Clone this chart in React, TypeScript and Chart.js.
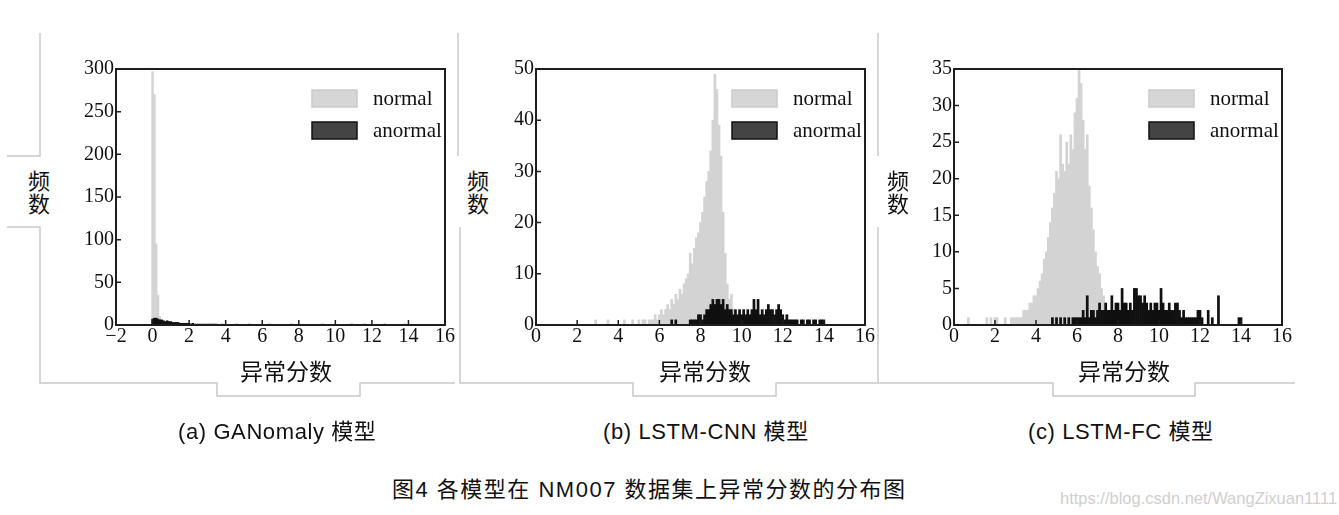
import React, { useEffect, useRef } from "react";
import { Chart, registerables } from "chart.js";
Chart.register(...registerables);

// ---------- data ----------
const BIN = 0.1;

// (a) GANomaly
const aNormalStart = 0.0;
const aNormalCounts = [297, 270, 95, 35, 10, 4, 2];
const aAnormalStart = 0.0;
const aAnormalCounts = [7, 8, 8, 7, 6, 6, 5, 4, 5, 4, 4, 3, 3, 3, 3, 2, 2, 2, 2, 2, 2, 1, 2, 1, 1, 1, 1, 1, 1, 1, 1, 1, 1, 1, 1, 1];
const aAnormalExtraX = [3.8, 4.6, 5.3, 6.4, 7.6, 9.3, 10.9, 11.6, 12.7, 13.8];
const aAnormalExtraY = [1, 1, 1, 1, 1, 1, 1, 1, 1, 1];

// (b) LSTM-CNN
const bNormalStart = 5.0;
const bNormalCounts = [
  1, 0, 1, 1, 0, 1, 1, 1, 2, 1,
  2, 3, 2, 3, 4, 3, 5, 4, 6, 5,
  7, 6, 8, 9, 10, 14, 12, 15, 17, 18,
  20, 22, 25, 28, 30, 34, 40, 49, 46, 39,
  33, 22, 14, 8, 5, 6, 3, 1, 1,
];
const bNormalExtraX = [2.9, 3.5, 4.3, 4.7];
const bNormalExtraY = [1, 1, 1, 1];
const bAnormalStart = 6.6;
const bAnormalCounts = [
  1, 0, 1, 0,
  0, 0, 0, 0, 0, 1, 1, 1, 1, 2,
  2, 1, 2, 3, 3, 4, 5, 4, 5, 5,
  4, 5, 3, 4, 3, 3, 2, 3, 2, 3,
  2, 3, 2, 3, 2, 3, 5, 3, 5, 2,
  3, 2, 3, 4, 3, 3, 2, 3, 4, 3,
  2, 1, 2, 1, 1, 1, 1, 1, 0, 1,
  1, 0, 1, 1, 0, 1, 1, 0, 1, 1, 1,
];

// (c) LSTM-FC
const cNormalStart = 2.8;
const cNormalCounts = [
  1, 1,
  1, 1, 1, 1, 2, 2, 2, 3, 3, 4,
  4, 5, 6, 7, 9, 10, 12, 14, 16, 18,
  21, 20, 26, 22, 21, 25, 22, 26, 24, 29,
  31, 35, 33, 28, 24, 26, 19, 16, 13, 10,
  8, 7, 5, 4, 3, 2, 2, 1, 1,
];
const cNormalExtraX = [0.7, 1.6, 1.8, 2.0, 2.1, 2.5];
const cNormalExtraY = [1, 1, 1, 1, 1, 1];
const cAnormalStart = 4.8;
const cAnormalCounts = [
  1, 0, 1, 0, 1, 0, 1, 0, 1, 0,
  1, 1, 1, 1, 1, 2, 1, 4, 1, 2,
  2, 1, 2, 3, 2, 2, 3, 2, 2, 4,
  2, 3, 3, 2, 5, 3, 3, 2, 3, 2,
  5, 5, 4, 4, 3, 4, 3, 2, 3, 2,
  3, 3, 2, 5, 3, 2, 2, 3, 2, 2,
  3, 3, 2, 1, 2, 1, 1, 1, 1, 1,
  1, 2, 2, 1, 0, 0, 2, 0, 1, 0,
  0, 4, 0,
];
const cAnormalExtraX = [13.9, 14.0];
const cAnormalExtraY = [1, 1];

const seriesLabels = ["normal", "anormal"];
const xTitle = "异常分数";
const yTitle = ["频", "数"];

// ---------- helpers ----------
type Pt = { x: number; y: number };
function hist(start: number, counts: number[]): Pt[] {
  return counts.map((c, i) => ({ x: Math.round((start + i * BIN) * 100) / 100, y: c }));
}
function pts(xs: number[], ys: number[]): Pt[] {
  return xs.map((x, i) => ({ x, y: ys[i] }));
}
function merge(a: Pt[], b: Pt[]): Pt[] {
  return [...a, ...b].sort((p, q) => p.x - q.x);
}

const SERIF = "'Liberation Serif', 'Times New Roman', serif";

const framePlugin = {
  id: "frame",
  afterDatasetsDraw(chart: any) {
    const { ctx, chartArea: a, scales } = chart;
    ctx.save();
    ctx.strokeStyle = "#1e1e1e";
    ctx.lineWidth = 2;
    ctx.strokeRect(a.left, a.top, a.right - a.left, a.bottom - a.top);
    ctx.lineWidth = 1.5;
    ctx.beginPath();
    scales.x.ticks.forEach((t: any) => {
      const px = scales.x.getPixelForValue(t.value);
      ctx.moveTo(px, a.bottom);
      ctx.lineTo(px, a.bottom - 5);
    });
    scales.y.ticks.forEach((t: any) => {
      const py = scales.y.getPixelForValue(t.value);
      ctx.moveTo(a.left, py);
      ctx.lineTo(a.left + 5, py);
    });
    ctx.stroke();
    // legend
    const fills = ["#d6d6d6", "#444444"];
    const strokes = ["#cacaca", "#111111"];
    chart.data.datasets.forEach((ds: any, i: number) => {
      const bx = a.right - 133;
      const by = a.top + 21 + i * 32;
      ctx.fillStyle = fills[i];
      ctx.fillRect(bx, by, 45, 17);
      ctx.strokeStyle = strokes[i];
      ctx.lineWidth = 1.5;
      ctx.strokeRect(bx, by, 45, 17);
      ctx.fillStyle = "#111";
      ctx.font = `21px ${SERIF}`;
      ctx.textBaseline = "middle";
      ctx.textAlign = "left";
      ctx.fillText(ds.label, a.right - 72, by + 9);
    });
    ctx.restore();
  },
};

type HistProps = {
  left: number;
  width: number;
  xMin: number;
  yMax: number;
  yStep: number;
  normal: Pt[];
  anormal: Pt[];
};

function HistChart({ left, width, xMin, yMax, yStep, normal, anormal }: HistProps) {
  const ref = useRef<HTMLCanvasElement>(null);
  useEffect(() => {
    if (!ref.current) return;
    const chart = new Chart(ref.current, {
      type: "bar",
      data: {
        datasets: [
          {
            label: seriesLabels[0],
            data: normal as any,
            backgroundColor: "#d3d3d3",
            borderWidth: 0,
            grouped: false,
            order: 2,
            barPercentage: 1,
            categoryPercentage: 1,
          } as any,
          {
            label: seriesLabels[1],
            data: anormal as any,
            backgroundColor: "#101010",
            borderWidth: 0,
            grouped: false,
            order: 1,
            barPercentage: 1,
            categoryPercentage: 1,
          } as any,
        ],
      },
      options: {
        animation: false,
        responsive: false,
        devicePixelRatio: 1,
        layout: { padding: { left: 0, top: 12, right: 15, bottom: 0 } },
        plugins: { legend: { display: false }, tooltip: { enabled: false } },
        scales: {
          x: {
            type: "linear",
            min: xMin,
            max: 16,
            offset: false,
            grid: { display: false, drawTicks: false },
            border: { display: false },
            ticks: {
              stepSize: 2,
              padding: 0,
              color: "#111",
              font: { family: SERIF, size: 20 },
              maxRotation: 0,
              callback: (v: any) => String(v).replace("-", "\u2212"),
            },
            afterFit: (s: any) => {
              s.height = 30;
            },
          },
          y: {
            min: 0,
            max: yMax,
            grid: { display: false, drawTicks: false },
            border: { display: false },
            ticks: {
              stepSize: yStep,
              padding: 2,
              color: "#111",
              font: { family: SERIF, size: 20 },
            },
            afterFit: (s: any) => {
              s.width = 45;
            },
          },
        },
      } as any,
      plugins: [framePlugin],
    });
    return () => chart.destroy();
  }, []);
  return (
    <canvas
      ref={ref}
      width={width}
      height={300}
      style={{ position: "absolute", left, top: 55, width, height: 300 }}
    />
  );
}

const CAP_FONT = "'Liberation Sans Narrow', 'Liberation Sans', 'Noto Sans CJK SC', sans-serif";
const CJK = "'Noto Sans CJK SC', sans-serif";

function Label({ left, top, text, size, font, color, width, align, spacing, sx }: any) {
  return (
    <div
      style={{
        position: "absolute",
        left,
        top,
        width,
        textAlign: align || "left",
        fontFamily: font,
        fontSize: size,
        lineHeight: `${size + 4}px`,
        color: color || "#111",
        whiteSpace: "nowrap",
        letterSpacing: spacing || 0,
        transform: sx ? `scaleX(${sx})` : undefined,
        transformOrigin: "left center",
      }}
    >
      {text}
    </div>
  );
}

const frameLines = [
  "40,33 40,156 7,156",
  "7,227 40,227 40,383 217,383 217,396 360,396 360,383 455,383",
  "458,33 458,156",
  "460,227 460,383 633,383 633,396 776,396 776,383 877,383",
  "878,33 878,156",
  "878,227 878,383 1053,383 1053,396 1195,396 1195,383 1295,383",
];

export default function App() {
  const panels = [
    { left: 71, width: 389, xMin: -2, yMax: 300, yStep: 50, normal: hist(aNormalStart, aNormalCounts), anormal: merge(hist(aAnormalStart, aAnormalCounts), pts(aAnormalExtraX, aAnormalExtraY)), yx: 28, tx: 286 },
    { left: 491, width: 389, xMin: 0, yMax: 50, yStep: 10, normal: merge(hist(bNormalStart, bNormalCounts), pts(bNormalExtraX, bNormalExtraY)), anormal: hist(bAnormalStart, bAnormalCounts), yx: 467, tx: 705 },
    { left: 909, width: 388, xMin: 0, yMax: 35, yStep: 5, normal: merge(hist(cNormalStart, cNormalCounts), pts(cNormalExtraX, cNormalExtraY)), anormal: merge(hist(cAnormalStart, cAnormalCounts), pts(cAnormalExtraX, cAnormalExtraY)), yx: 887, tx: 1124 },
  ];
  const captions = [
    { left: 178, text: "(a) GANomaly 模型" },
    { left: 603, text: "(b) LSTM-CNN 模型" },
    { left: 1028, text: "(c) LSTM-FC 模型" },
  ];
  return (
    <div style={{ position: "absolute", left: 0, top: 0, width: 1339, height: 515, background: "#fff", overflow: "hidden" }}>
      <svg width={1339} height={515} style={{ position: "absolute", left: 0, top: 0 }}>
        {frameLines.map((p, i) => (
          <polyline key={i} points={p} fill="none" stroke="#c9c9c9" strokeWidth={1.5} />
        ))}
      </svg>
      {panels.map((p, i) => (
        <React.Fragment key={i}>
          <HistChart left={p.left} width={p.width} xMin={p.xMin} yMax={p.yMax} yStep={p.yStep} normal={p.normal} anormal={p.anormal} />
          <div style={{ position: "absolute", left: p.yx, top: 168, fontFamily: CJK, fontSize: 22, lineHeight: "23px", color: "#111", width: 24 }}>
            {yTitle.map((c, k) => (
              <div key={k}>{c}</div>
            ))}
          </div>
          <Label left={p.tx - 60} top={357} width={120} align="center" text={xTitle} size={23} font={CJK} />
        </React.Fragment>
      ))}
      {captions.map((c, i) => (
        <Label key={i} left={c.left} top={419} text={c.text} size={22} font={CAP_FONT} spacing={0.6} />
      ))}
      <Label left={392} top={477} text="图4 各模型在 NM007 数据集上异常分数的分布图" size={22} font={CAP_FONT} spacing={1.5} />
      <Label left={1060} top={488} text="https://blog.csdn.net/WangZixuan1111" size={17} font={CAP_FONT} color="#cfcfcf" sx={0.97} />
    </div>
  );
}
